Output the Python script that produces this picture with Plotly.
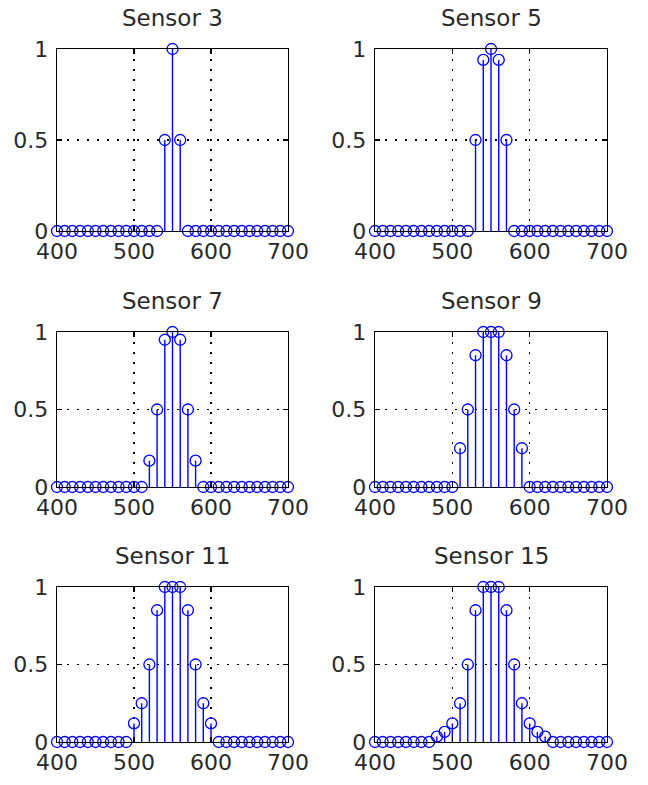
import plotly.graph_objects as go

wavelength = [400, 410, 420, 430, 440, 450, 460, 470, 480, 490,
              500, 510, 520, 530, 540, 550, 560, 570, 580, 590,
              600, 610, 620, 630, 640, 650, 660, 670, 680, 690, 700]

sensor3 = [0, 0, 0, 0, 0, 0, 0, 0, 0, 0,
           0, 0, 0, 0, 0.5, 1, 0.5, 0, 0, 0,
           0, 0, 0, 0, 0, 0, 0, 0, 0, 0, 0]
sensor5 = [0, 0, 0, 0, 0, 0, 0, 0, 0, 0,
           0, 0, 0, 0.5, 0.94, 1, 0.94, 0.5, 0, 0,
           0, 0, 0, 0, 0, 0, 0, 0, 0, 0, 0]
sensor7 = [0, 0, 0, 0, 0, 0, 0, 0, 0, 0,
           0, 0, 0.17, 0.5, 0.95, 1, 0.95, 0.5, 0.17, 0,
           0, 0, 0, 0, 0, 0, 0, 0, 0, 0, 0]
sensor9 = [0, 0, 0, 0, 0, 0, 0, 0, 0, 0,
           0, 0.25, 0.5, 0.85, 1, 1, 1, 0.85, 0.5, 0.25,
           0, 0, 0, 0, 0, 0, 0, 0, 0, 0, 0]
sensor11 = [0, 0, 0, 0, 0, 0, 0, 0, 0, 0,
            0.12, 0.25, 0.5, 0.85, 1, 1, 1, 0.85, 0.5, 0.25,
            0.12, 0, 0, 0, 0, 0, 0, 0, 0, 0, 0]
sensor15 = [0, 0, 0, 0, 0, 0, 0, 0, 0.035, 0.065,
            0.12, 0.25, 0.5, 0.85, 1, 1, 1, 0.85, 0.5, 0.25,
            0.12, 0.065, 0.035, 0, 0, 0, 0, 0, 0, 0, 0]

titles = ["Sensor 3", "Sensor 5", "Sensor 7", "Sensor 9", "Sensor 11", "Sensor 15"]
series = [sensor3, sensor5, sensor7, sensor9, sensor11, sensor15]
x_ticks = [400, 500, 600, 700]
y_ticks = [0, 0.5, 1]
y_tick_text = ["0", "0.5", "1"]

W, H = 648, 785
# pixel boxes of the axes: (left, right), (top, bottom)
cols = [(57, 288), (375, 607)]
rows = [(49, 231), (332, 487), (587, 742)]

BLUE = "#0000ff"
FONT = "DejaVu Sans"
TXT = "#2a2a2a"

fig = go.Figure()
layout = dict(
    width=W, height=H, autosize=False,
    margin=dict(l=0, r=0, t=0, b=0, pad=0, autoexpand=False),
    paper_bgcolor="white", plot_bgcolor="white",
    showlegend=False,
    font=dict(family=FONT, size=22, color=TXT),
)
annotations = []

for i, (title, vals) in enumerate(zip(titles, series)):
    r, c = divmod(i, 2)
    n = i + 1
    xa = "xaxis" if n == 1 else f"xaxis{n}"
    ya = "yaxis" if n == 1 else f"yaxis{n}"
    xref = "x" if n == 1 else f"x{n}"
    yref = "y" if n == 1 else f"y{n}"
    left, right = cols[c]
    top, bottom = rows[r]
    xd = [left / W, right / W]
    yd = [1 - bottom / H, 1 - top / H]

    sx, sy = [], []
    for xv, yv in zip(wavelength, vals):
        sx += [xv, xv, None]
        sy += [0, yv, None]
    fig.add_trace(go.Scatter(x=sx, y=sy, mode="lines",
                             line=dict(color=BLUE, width=1.4),
                             xaxis=xref, yaxis=yref, hoverinfo="skip"))
    fig.add_trace(go.Scatter(x=wavelength, y=vals, mode="markers",
                             marker=dict(symbol="circle-open", size=11, color=BLUE,
                                         line=dict(color=BLUE, width=1.3)),
                             cliponaxis=False,
                             xaxis=xref, yaxis=yref))

    common = dict(showline=True, linecolor="black", linewidth=1.3, mirror="ticks",
                  ticks="inside", ticklen=5, tickwidth=1.3, tickcolor="black",
                  showgrid=True, gridcolor="black", gridwidth=1.2, griddash="1.5px,8.5px",
                  zeroline=False, automargin=False,
                  tickfont=dict(family=FONT, size=22, color=TXT))
    layout[xa] = dict(common, domain=xd, range=[400, 700], tickvals=x_ticks,
                      anchor=yref, ticklabelstandoff=0)
    layout[ya] = dict(common, domain=yd, range=[0, 1], tickvals=y_ticks,
                      ticktext=y_tick_text, anchor=xref, ticklabelstandoff=3)

    annotations.append(dict(text=title, xref="paper", yref="paper",
                            x=(xd[0] + xd[1]) / 2, y=yd[1], yshift=31,
                            xanchor="center", yanchor="middle", showarrow=False,
                            font=dict(family=FONT, size=23, color=TXT)))

layout["annotations"] = annotations
fig.update_layout(**layout)
fig.write_html(
    "out.html",
    config={"displayModeBar": False, "staticPlot": True},
    post_script="document.body.style.margin='0';document.body.style.padding='0';"
                "document.documentElement.style.overflow='hidden';",
)
